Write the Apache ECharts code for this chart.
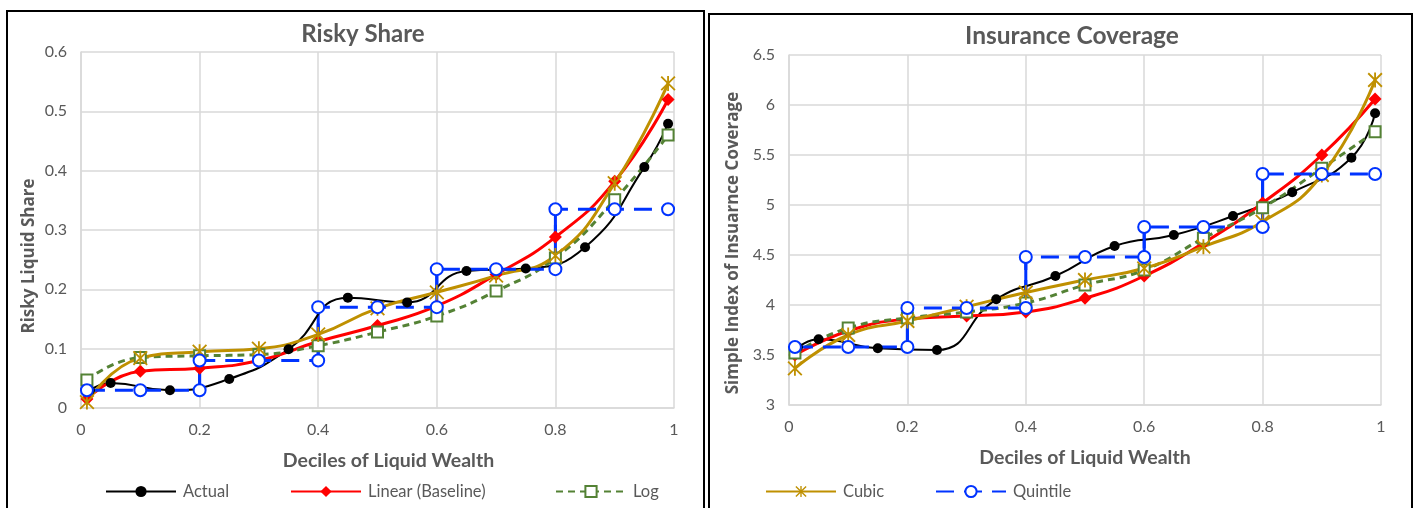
<!DOCTYPE html>
<html>
<head>
<meta charset="utf-8">
<script src="https://cdn.jsdelivr.net/npm/echarts@6/dist/echarts.min.js"></script>
<style>
  html, body { margin: 0; padding: 0; background: #fff; }
  #main { width: 1419px; height: 508px; }
</style>
</head>
<body>
<div id="main"></div>
<script>
// deciles where the fitted models are evaluated
var fitX = [0.01, 0.1, 0.2, 0.3, 0.4, 0.5, 0.6, 0.7, 0.8, 0.9, 0.99];
// positions of the observed (actual) points
var actualX = [0.015, 0.05, 0.15, 0.25, 0.35, 0.45, 0.55, 0.65, 0.75, 0.85, 0.95, 0.99];

// Risky Share panel
var riskActual = [0.030, 0.042, 0.030, 0.049, 0.099, 0.186, 0.178, 0.231, 0.235, 0.271, 0.406, 0.479];
var riskLinear = [0.015, 0.062, 0.067, 0.080, 0.112, 0.139, 0.172, 0.225, 0.288, 0.382, 0.520];
var riskLog = [0.047, 0.085, 0.088, 0.090, 0.105, 0.128, 0.155, 0.197, 0.253, 0.351, 0.460];
var riskCubic = [0.010, 0.084, 0.095, 0.100, 0.124, 0.168, 0.195, 0.223, 0.257, 0.379, 0.547];
var riskQuintile = [0.030, 0.080, 0.170, 0.234, 0.335];

// Insurance Coverage panel
var coverActual = [3.577, 3.657, 3.567, 3.550, 4.057, 4.290, 4.590, 4.700, 4.890, 5.127, 5.473, 5.917];
var coverLinear = [3.50, 3.74, 3.86, 3.89, 3.93, 4.067, 4.29, 4.62, 5.02, 5.50, 6.06];
var coverLog = [3.52, 3.77, 3.87, 3.93, 4.02, 4.20, 4.35, 4.667, 4.973, 5.367, 5.733];
var coverCubic = [3.367, 3.70, 3.84, 3.983, 4.125, 4.25, 4.367, 4.583, 4.833, 5.30, 6.25];
var coverQuintile = [3.58, 3.97, 4.48, 4.78, 5.31];

var names = ['Actual', 'Linear (Baseline)', 'Log', 'Cubic', 'Quintile'];

var starPath = 'path://M8.8,0L11.2,0L11.2,20L8.8,20Z' +
  'M1.85,0.15L19.85,18.15L18.15,19.85L0.15,1.85Z' +
  'M18.15,0.15L19.85,1.85L1.85,19.85L0.15,18.15Z';

function pairs(xs, ys) {
  return xs.map(function (x, i) { return [x, ys[i]]; });
}

// step line: each quintile level spans three of the fit deciles
function quintileSteps(levels) {
  var out = [];
  levels.forEach(function (v, g) {
    for (var k = 0; k < 3; k++) out.push([fitX[2 * g + k], v]);
  });
  return out;
}
function quintileRisers(levels) {
  var out = [];
  for (var g = 1; g < levels.length; g++) {
    out.push([fitX[2 * g], levels[g - 1]]);
    out.push([fitX[2 * g], levels[g]]);
    out.push('-');
  }
  return out;
}

function panelSeries(idx, actual, linear, log, cubic, quintile) {
  return [
    {
      name: 'Actual', type: 'line', xAxisIndex: idx, yAxisIndex: idx,
      data: pairs(actualX, actual), smooth: 0.5,
      symbol: 'circle', symbolSize: 10,
      lineStyle: { color: '#000', width: 2 },
      itemStyle: { color: '#000' }
    },
    {
      name: 'Linear (Baseline)', type: 'line', xAxisIndex: idx, yAxisIndex: idx,
      data: pairs(fitX, linear), smooth: 0.5,
      symbol: 'diamond', symbolSize: 13,
      lineStyle: { color: '#ff0000', width: 3 },
      itemStyle: { color: '#ff0000' }
    },
    {
      name: 'Log', type: 'line', xAxisIndex: idx, yAxisIndex: idx,
      data: pairs(fitX, log), smooth: 0.5,
      symbol: 'rect', symbolSize: 11,
      lineStyle: { color: '#548235', width: 3, type: [7, 5] },
      itemStyle: { color: '#fff', borderColor: '#548235', borderWidth: 2 }
    },
    {
      name: 'Cubic', type: 'line', xAxisIndex: idx, yAxisIndex: idx,
      data: pairs(fitX, cubic), smooth: 0.5,
      symbol: starPath, symbolSize: 15,
      lineStyle: { color: '#bf9000', width: 3 },
      itemStyle: { color: '#bf9000' }
    },
    {
      name: 'Quintile', type: 'line', xAxisIndex: idx, yAxisIndex: idx,
      data: quintileSteps(quintile),
      symbol: 'circle', symbolSize: 12, showAllSymbol: true,
      lineStyle: { color: '#0033ff', width: 3, type: [18, 10] },
      itemStyle: { color: '#fff', borderColor: '#0033ff', borderWidth: 2 },
      z: 3
    },
    {
      name: 'Quintile', type: 'line', xAxisIndex: idx, yAxisIndex: idx,
      data: quintileRisers(quintile), connectNulls: false,
      symbol: 'none',
      lineStyle: { color: '#0033ff', width: 3 },
      z: 1
    }
  ];
}

var gray = '#595959';
var gridColor = '#d9d9d9';
var tickFont = { color: gray, fontSize: 16, fontFamily: 'Lato' };

function xAxisOf(gridIndex, namePad) {
  return {
    type: 'value', gridIndex: gridIndex, min: 0, max: 1, interval: 0.2,
    name: 'Deciles of Liquid Wealth', nameLocation: 'middle', nameGap: 43,
    nameTextStyle: { color: gray, fontSize: 19.5, fontWeight: 'bold', fontFamily: 'Lato', padding: namePad },
    axisLine: { show: true, lineStyle: { color: gridColor, width: 1.5 } },
    axisTick: { show: false },
    axisLabel: Object.assign({ margin: 14 }, tickFont),
    splitLine: { show: true, lineStyle: { color: gridColor, width: 1.5 } }
  };
}

function yAxisOf(gridIndex, name, min, max, interval, gap, namePad) {
  return {
    type: 'value', gridIndex: gridIndex, min: min, max: max, interval: interval,
    name: name, nameLocation: 'middle', nameGap: gap,
    nameTextStyle: { color: gray, fontSize: 17, fontWeight: 'bold', fontFamily: 'Open Sans', padding: namePad },
    axisLine: { show: true, lineStyle: { color: gridColor, width: 1.5 } },
    axisTick: { show: false },
    axisLabel: Object.assign({ margin: 14 }, tickFont),
    splitLine: { show: true, lineStyle: { color: gridColor, width: 1.5 } }
  };
}

function legendAt(name, left) {
  return {
    data: [name], left: left, top: 483, padding: 0,
    itemWidth: 70, itemHeight: 14, selectedMode: false,
    textStyle: { color: gray, fontSize: 16.5, fontFamily: 'Lato', padding: [0, 0, 0, 2] }
  };
}

var chart = echarts.init(document.getElementById('main'), null, { renderer: 'canvas' });

chart.setOption({
  animation: false,
  backgroundColor: '#fff',
  title: [
    { text: 'Risky Share', left: 358, top: 17, textAlign: 'center',
      textStyle: { color: gray, fontSize: 24, fontWeight: 'bold', fontFamily: 'Lato' } },
    { text: 'Insurance Coverage', left: 1067, top: 19, textAlign: 'center',
      textStyle: { color: gray, fontSize: 24.5, fontWeight: 'bold', fontFamily: 'Lato' } }
  ],
  legend: [
    legendAt(names[0], 105),
    legendAt(names[1], 290),
    legendAt(names[2], 555),
    legendAt(names[3], 765),
    legendAt(names[4], 935)
  ],
  grid: [
    { left: 81, right: 1419 - 674, top: 52, bottom: 508 - 408 },
    { left: 789, right: 1419 - 1381, top: 55, bottom: 508 - 405 }
  ],
  xAxis: [xAxisOf(0, [0, 0, 0, 22]), xAxisOf(1, [0, 0, 0, 0])],
  yAxis: [
    yAxisOf(0, 'Risky Liquid Share', 0, 0.6, 0.1, 43, [0, 52, 0, 0]),
    yAxisOf(1, 'Simple Index of Insuarnce Coverage', 3, 6.5, 0.5, 47, [0, 26, 0, 0])
  ],
  graphic: [
    { type: 'rect', shape: { x: 7, y: 11, width: 697, height: 520 },
      style: { fill: 'none', stroke: '#000', lineWidth: 2 }, silent: true },
    { type: 'rect', shape: { x: 709, y: 14, width: 703, height: 520 },
      style: { fill: 'none', stroke: '#000', lineWidth: 2 }, silent: true }
  ],
  series: [].concat(
    panelSeries(0, riskActual, riskLinear, riskLog, riskCubic, riskQuintile),
    panelSeries(1, coverActual, coverLinear, coverLog, coverCubic, coverQuintile)
  )
});
</script>
</body>
</html>
